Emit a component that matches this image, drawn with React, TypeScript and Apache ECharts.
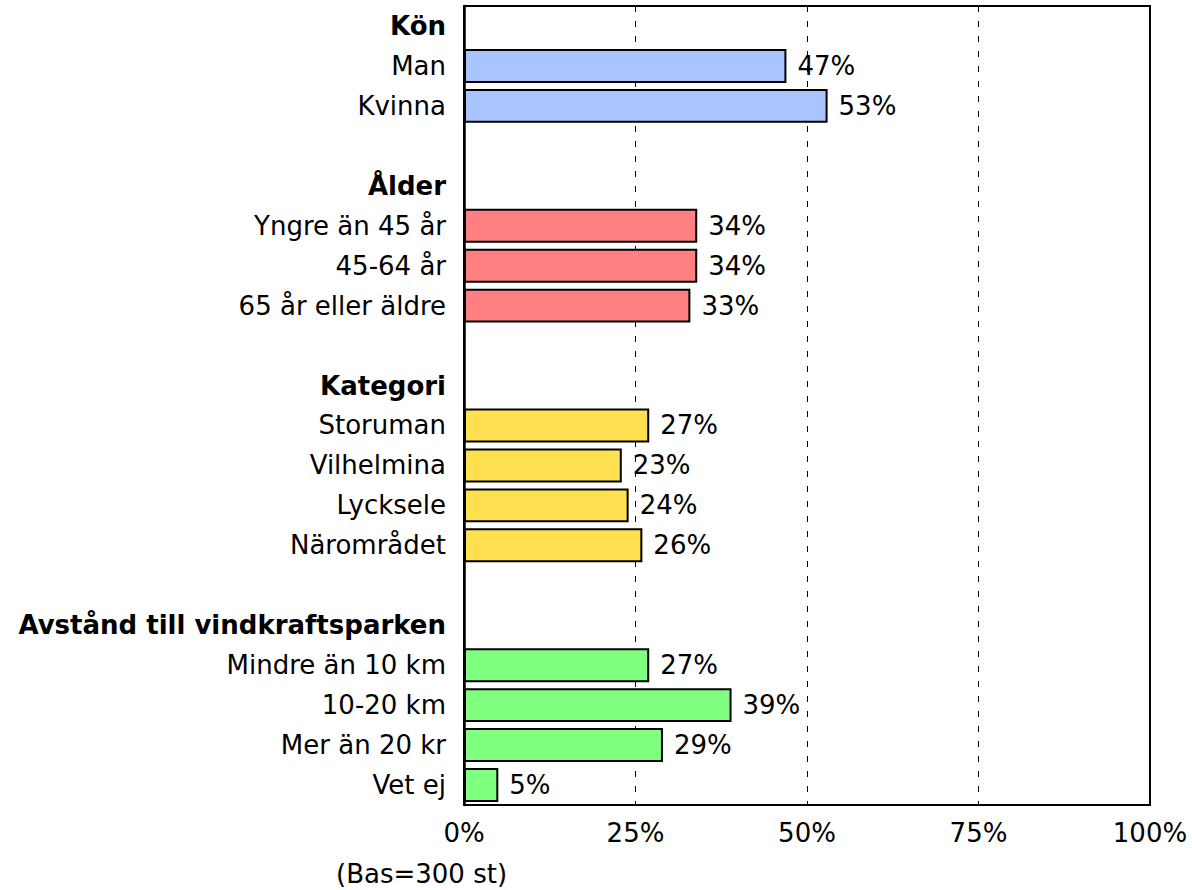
import React, { useEffect, useRef } from "react";
import * as echarts from "echarts";

const groupTitles = ["Kön", "Ålder", "Kategori", "Avstånd till vindkraftsparken"];

const konLabels = ["Man", "Kvinna"];
const konValues = [47, 53];

const alderLabels = ["Yngre än 45 år", "45-64 år", "65 år eller äldre"];
const alderValues = [34, 34, 33];

const kategoriLabels = ["Storuman", "Vilhelmina", "Lycksele", "Närområdet"];
const kategoriValues = [27, 23, 24, 26];

const avstandLabels = ["Mindre än 10 km", "10-20 km", "Mer än 20 kr", "Vet ej"];
const avstandValues = [27, 39, 29, 5];

const xTickValues = [0, 25, 50, 75, 100];
const baseNote = "(Bas=300 st)";

const groupColors = ["#AAC4FF", "#FF8080", "#FFE050", "#80FF80"];

const FONT = "'DejaVu Sans', Verdana, sans-serif";

export default function App() {
  const ref = useRef<HTMLDivElement>(null);

  useEffect(() => {
    if (!ref.current) return;
    const chart = echarts.init(ref.current, null, { renderer: "svg" });

    const groupLabels = [konLabels, alderLabels, kategoriLabels, avstandLabels];
    const groupValues = [konValues, alderValues, kategoriValues, avstandValues];

    const categories: string[] = [];
    const headerSet = new Set<string>(groupTitles);
    const data: any[] = [];
    groupTitles.forEach((title, gi) => {
      if (gi > 0) {
        categories.push("");
        data.push("-");
      }
      categories.push(title);
      data.push("-");
      groupLabels[gi].forEach((lab, i) => {
        categories.push(lab);
        data.push({
          value: groupValues[gi][i],
          itemStyle: { color: groupColors[gi] },
        });
      });
    });

    chart.setOption({
      animation: false,
      textStyle: { fontFamily: FONT },
      grid: {
        left: 464,
        right: 42,
        top: 6,
        bottom: 85,
        show: true,
        borderColor: "#000",
        borderWidth: 2,
        backgroundColor: "transparent",
        containLabel: false,
      },
      xAxis: {
        type: "value",
        min: xTickValues[0],
        max: xTickValues[xTickValues.length - 1],
        interval: xTickValues[1] - xTickValues[0],
        axisLine: { show: true, lineStyle: { color: "#000", width: 2 } },
        axisTick: { show: false },
        axisLabel: {
          formatter: "{value}%",
          color: "#000",
          fontSize: 26,
          fontFamily: FONT,
          margin: 15,
        },
        splitLine: {
          show: true,
          lineStyle: { color: "#000", width: 1, type: [6, 9] },
        },
      },
      yAxis: {
        type: "category",
        inverse: true,
        data: categories,
        axisLine: { show: true, lineStyle: { color: "#000", width: 2.5 } },
        axisTick: { show: false },
        splitLine: { show: false },
        axisLabel: {
          interval: 0,
          margin: 18,
          color: "#000",
          fontSize: 26,
          fontFamily: FONT,
          formatter: (v: string) => (headerSet.has(v) ? `{h|${v}}` : v),
          rich: {
            h: { fontWeight: "bold", fontSize: 26, color: "#000", fontFamily: FONT },
          },
        },
      },
      series: [
        {
          type: "bar",
          data,
          barCategoryGap: "15%",
          itemStyle: { borderColor: "#000", borderWidth: 2 },
          label: {
            show: true,
            position: "right",
            distance: 11,
            formatter: "{c}%",
            color: "#000",
            fontSize: 26,
            fontFamily: FONT,
          },
        },
      ],
      graphic: [
        {
          type: "text",
          left: 336,
          top: 861,
          style: { text: baseNote, fontSize: 26, fontFamily: FONT, fill: "#000" },
        },
      ],
    });

    return () => chart.dispose();
  }, []);

  return (
    <div
      ref={ref}
      style={{ position: "absolute", left: 0, top: 0, width: 1192, height: 890, background: "#fff" }}
    />
  );
}
